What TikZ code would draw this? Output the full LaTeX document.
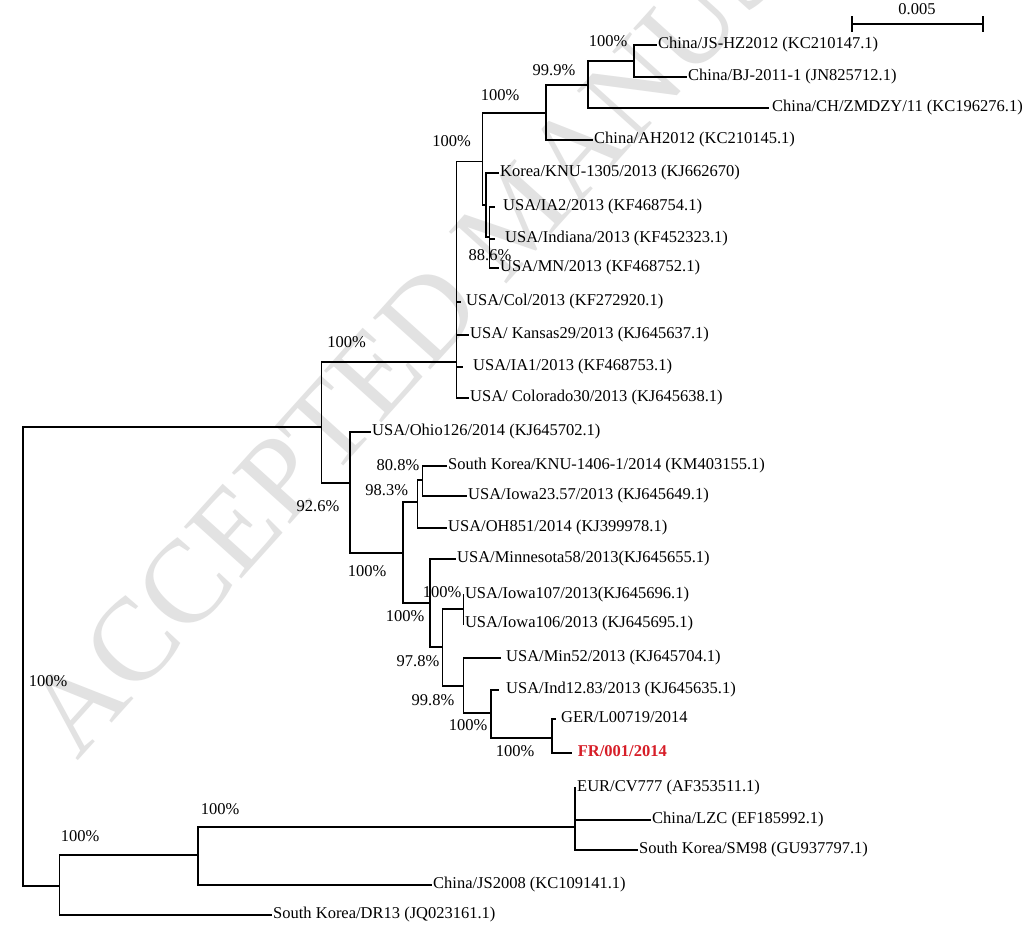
\documentclass[tikz,border=0pt]{standalone}
\usepackage{fontspec}
\setmainfont{Liberation Serif}
\newcommand{\lblfont}{\fontsize{16.5}{18}\selectfont}
\newcommand{\wmfont}{\fontsize{118}{120}\selectfont}
\definecolor{frred}{RGB}{215,30,40}
\definecolor{wmgray}{RGB}{226,226,226}
\begin{document}
\begin{tikzpicture}[x=1pt,y=-1pt,
  br/.style={line width=1.15pt,black,line cap=rect},
  leaf/.style={anchor=west,inner ysep=0pt,inner xsep=2pt,text height=0.66em,text depth=0pt,font=\lblfont},
  bs/.style={inner sep=0pt,text height=0.66em,text depth=0pt,font=\lblfont},
  wm/.style={anchor=base west,inner sep=0pt,font=\wmfont,text=wmgray,rotate=48}]
\useasboundingbox[fill=white] (0,0) rectangle (1027,927);
% watermark
\node[wm] (wmark) at (77,762) {ACCEPTED MANUSCRIPT};
% internal nodes
\coordinate (R) at (23,656);
\coordinate (N1) at (321.7,427);
\coordinate (X) at (456.7,362);
\coordinate (G) at (482.7,161.7);
\coordinate (J) at (546,113);
\coordinate (K) at (588,85);
\coordinate (L) at (634,61);
\coordinate (H) at (486,205);
\coordinate (I) at (489.3,237);
\coordinate (N2) at (350,483);
\coordinate (N3) at (403,553);
\coordinate (N4) at (417.7,502);
\coordinate (N6) at (422.7,480);
\coordinate (N5) at (430,603);
\coordinate (N7) at (442.7,647);
\coordinate (N8) at (463.3,609);
\coordinate (N9) at (463.3,686);
\coordinate (N10) at (491,713);
\coordinate (N11) at (552,738);
\coordinate (Nb) at (59.3,886);
\coordinate (N12) at (198,855);
\coordinate (N13) at (575,827);
% leaves
\node[leaf] (jshz) at (656,45) {China/JS-HZ2012 (KC210147.1)};
\node[leaf] (bj) at (686,77) {China/BJ-2011-1 (JN825712.1)};
\node[leaf,inner xsep=4pt] (zmdzy) at (768,108) {China/CH/ZMDZY/11 (KC196276.1)};
\node[leaf] (ah) at (592,140) {China/AH2012 (KC210145.1)};
\node[leaf] (korea) at (498,173) {Korea/KNU-1305/2013 (KJ662670)};
\node[leaf,inner xsep=9pt] (ia2) at (494,207) {USA/IA2/2013 (KF468754.1)};
\node[leaf,inner xsep=11pt] (indiana) at (494,239) {USA/Indiana/2013 (KF452323.1)};
\node[leaf] (mn) at (498,268) {USA/MN/2013 (KF468752.1)};
\node[leaf,inner xsep=6pt] (col) at (460,302) {USA/Col/2013 (KF272920.1)};
\node[leaf] (kansas) at (468,335) {USA/ Kansas29/2013 (KJ645637.1)};
\node[leaf,inner xsep=11pt] (ia1) at (462,367) {USA/IA1/2013 (KF468753.1)};
\node[leaf] (colorado) at (468,398) {USA/ Colorado30/2013 (KJ645638.1)};
\node[leaf] (ohio) at (370,432) {USA/Ohio126/2014 (KJ645702.1)};
\node[leaf] (knu) at (446,466) {South Korea/KNU-1406-1/2014 (KM403155.1)};
\node[leaf] (iowa2357) at (466,496) {USA/Iowa23.57/2013 (KJ645649.1)};
\node[leaf] (oh851) at (446,528) {USA/OH851/2014 (KJ399978.1)};
\node[leaf] (minn58) at (455,559) {USA/Minnesota58/2013(KJ645655.1)};
\node[leaf,inner xsep=1.5pt] (iowa107) at (463.3,595) {USA/Iowa107/2013(KJ645696.1)};
\node[leaf,inner xsep=1.5pt] (iowa106) at (463.3,624) {USA/Iowa106/2013 (KJ645695.1)};
\node[leaf,inner xsep=6pt] (min52) at (500,658) {USA/Min52/2013 (KJ645704.1)};
\node[leaf,inner xsep=8pt] (ind1283) at (498,690) {USA/Ind12.83/2013 (KJ645635.1)};
\node[leaf,inner xsep=6pt] (ger) at (555,719) {GER/L00719/2014};
\node[leaf,inner xsep=6pt,text=frred,font=\lblfont\bfseries] (fr) at (571.7,753) {FR/001/2014};
\node[leaf] (eur) at (575,788) {EUR/CV777 (AF353511.1)};
\node[leaf] (lzc) at (650,820) {China/LZC (EF185992.1)};
\node[leaf] (sm98) at (637,850) {South Korea/SM98 (GU937797.1)};
\node[leaf] (js2008) at (431,885) {China/JS2008 (KC109141.1)};
\node[leaf] (dr13) at (271,915) {South Korea/DR13 (JQ023161.1)};
% branches
\draw[br] (R) |- (N1);
\draw[br] (R) |- (Nb);
\draw[br] (N1) |- (X);
\draw[br] (N1) |- (N2);
\draw[br] (X) |- (G);
\draw[br] (X) |- (col.west);
\draw[br] (X) |- (kansas.west);
\draw[br] (X) |- (ia1.west);
\draw[br] (X) |- (colorado.west);
\draw[br] (G) |- (J);
\draw[br] (G) |- (H);
\draw[br] (J) |- (K);
\draw[br] (J) |- (ah.west);
\draw[br] (K) |- (L);
\draw[br] (K) |- (zmdzy.west);
\draw[br] (L) |- (jshz.west);
\draw[br] (L) |- (bj.west);
\draw[br] (H) |- (korea.west);
\draw[br] (H) |- (I);
\draw[br] (I) |- (ia2.west);
\draw[br] (I) |- (indiana.west);
\draw[br] (I) |- (mn.west);
\draw[br] (N2) |- (ohio.west);
\draw[br] (N2) |- (N3);
\draw[br] (N3) |- (N4);
\draw[br] (N3) |- (N5);
\draw[br] (N4) |- (N6);
\draw[br] (N4) |- (oh851.west);
\draw[br] (N6) |- (knu.west);
\draw[br] (N6) |- (iowa2357.west);
\draw[br] (N5) |- (minn58.west);
\draw[br] (N5) |- (N7);
\draw[br] (N7) |- (N8);
\draw[br] (N7) |- (N9);
\draw[br] (N8) |- (iowa107.west);
\draw[br] (N8) |- (iowa106.west);
\draw[br] (N9) |- (min52.west);
\draw[br] (N9) |- (N10);
\draw[br] (N10) |- (ind1283.west);
\draw[br] (N10) |- (N11);
\draw[br] (N11) |- (ger.west);
\draw[br] (N11) |- (fr.west);
\draw[br] (Nb) |- (N12);
\draw[br] (Nb) |- (dr13.west);
\draw[br] (N12) |- (N13);
\draw[br] (N12) |- (js2008.west);
\draw[br] (N13) |- (eur.west);
\draw[br] (N13) |- (lzc.west);
\draw[br] (N13) |- (sm98.west);
% bootstrap values
\node[bs] (bL) at (608,43) {100\%};
\node[bs] (bK) at (554,72) {99.9\%};
\node[bs] (bJ) at (500,97) {100\%};
\node[bs] (bG) at (451.7,143) {100\%};
\node[bs] (bX) at (346.7,344) {100\%};
\node[bs] (bI) at (490,257) {88.6\%};
\node[bs] (bN2) at (318,508) {92.6\%};
\node[bs] (bN6) at (398,467) {80.8\%};
\node[bs] (bN4) at (386.7,492) {98.3\%};
\node[bs] (bN3) at (367,573) {100\%};
\node[bs] (bN5) at (405,618) {100\%};
\node[bs] (bN8) at (442,594) {100\%};
\node[bs] (bN7) at (418,663) {97.8\%};
\node[bs] (bN9) at (433,702) {99.8\%};
\node[bs] (bN10) at (468,727) {100\%};
\node[bs] (bN11) at (515,753) {100\%};
\node[bs] (bR) at (48,683) {100\%};
\node[bs] (bNb) at (80,838) {100\%};
\node[bs] (bN12) at (220,811) {100\%};
% redraw lines crossing labels
\draw[br] (I) -- (I |- mn.west);
\draw[br] (N5) -- (N5 |- minn58.west);
% scale bar
\coordinate (sbL) at (852,24);
\coordinate (sbR) at (983,24);
\draw[br] (sbL) -- (sbR);
\draw[br] ([yshift=7pt]sbL) -- ([yshift=-7pt]sbL);
\draw[br] ([yshift=7pt]sbR) -- ([yshift=-7pt]sbR);
\node[bs] (sbtext) at (917,11) {0.005};
\end{tikzpicture}
\end{document}
